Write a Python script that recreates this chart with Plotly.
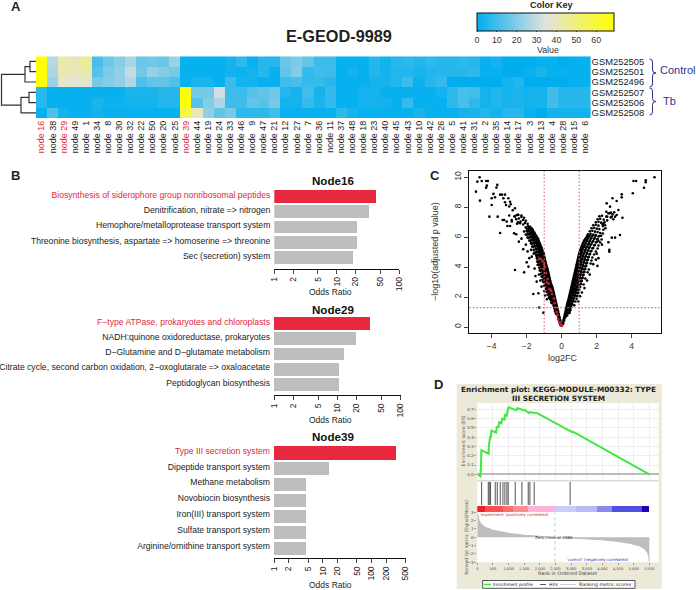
import math

import plotly.graph_objects as go

W, H = 696, 590
SANS = "Liberation Sans"
JAVA = "DejaVu Sans"

# --- A: heatmap ---
node_ids = [16, 38, 29, 49, 1, 34, 8, 30, 32, 22, 50, 20, 25, 39, 44, 19, 24, 33, 46, 9, 47, 21, 12, 27, 7,
            36, 11, 37, 48, 18, 23, 40, 45, 43, 10, 42, 26, 5, 41, 31, 2, 35, 14, 17, 3, 13, 4, 28, 15, 6]
red_nodes = [16, 29, 39]
samples = ["GSM252505", "GSM252501", "GSM252496", "GSM252507", "GSM252506", "GSM252508"]
row_505 = [68, 28, 43, 41, 45, 11, 17, 21, 26, 16, 17, 16, 24, 1, 1, 1, 1, 3, 7, 1, 6, 6, 16, 19, 15,
           9, 9, 1, 1, 1, 6, 3, 6, 7, 5, 7, 6, 6, 7, 6, 1, 3, 0, 0, 0, 1, 1, 0, 1, 1]
row_501 = [68, 26, 42, 40, 43, 13, 19, 22, 30, 17, 23, 20, 18, 1, 1, 1, 1, 3, 2, 3, 6, 1, 15, 20, 8,
           10, 9, 1, 3, 1, 5, 3, 5, 5, 4, 5, 6, 6, 6, 7, 1, 1, 0, 0, 1, 4, 1, 1, 1, 1]
row_496 = [68, 24, 38, 36, 37, 18, 20, 22, 27, 12, 15, 15, 12, 1, 4, 4, 1, 9, 3, 3, 1, 1, 10, 11, 8,
           8, 6, 1, 1, 1, 3, 3, 5, 9, 2, 6, 8, 0, 0, 0, 0, 0, 3, 5, 0, 0, 0, 0, 1, 1]
row_507 = [6, 1, 1, 1, 1, 1, 1, 1, 4, 4, 4, 6, 6, 68, 18, 18, 32, 9, 9, 13, 15, 17, 5, 3, 10,
           3, 8, 1, 1, 3, 3, 1, 1, 1, 1, 1, 3, 7, 11, 10, 3, 5, 3, 4, 3, 3, 10, 6, 6, 6]
row_506 = [6, 1, 1, 1, 1, 4, 2, 2, 3, 3, 3, 5, 5, 68, 13, 20, 26, 9, 10, 15, 13, 18, 3, 3, 8,
           4, 8, 1, 1, 3, 3, 3, 1, 8, 1, 1, 1, 7, 11, 7, 3, 5, 3, 4, 3, 3, 10, 6, 6, 6]
row_508 = [1, 12, 3, 1, 1, 3, 1, 1, 1, 1, 1, 1, 1, 58, 40, 22, 15, 18, 7, 7, 7, 10, 1, 1, 1,
           1, 1, 7, 3, 1, 1, 1, 1, 1, 4, 1, 1, 1, 3, 4, 5, 3, 6, 6, 1, 0, 3, 3, 3, 3]
dendro_merges = [(0, 1, 6), (6, 2, 11), (3, 4, 7), (8, 5, 15), (7, 9, 34.5)]
key_ticks = [0, 10, 20, 30, 40, 50, 60]

# --- B: enrichment bars ---
node16_terms = ["Biosynthesis of siderophore group nonribosomal peptides", "Denitrification, nitrate => nitrogen",
                "Hemophore/metalloprotease transport system",
                "Threonine biosynthesis, aspartate => homoserine => threonine", "Sec (secretion) system"]
node16_odds = [43.4, 32.7, 21.5, 21.5, 18.2]
node29_terms = ["F\u2212type ATPase, prokaryotes and chloroplasts", "NADH:quinone oxidoreductase, prokaryotes",
                "D\u2212Glutamine and D\u2212glutamate metabolism",
                "Citrate cycle, second carbon oxidation, 2\u2212oxoglutarate => oxaloacetate",
                "Peptidoglycan biosynthesis"]
node29_odds = [33, 19.8, 13, 10.8, 10.5]
node39_terms = ["Type III secretion system", "Dipeptide transport system", "Methane metabolism",
                "Novobiocin biosynthesis", "Iron(III) transport system", "Sulfate transport system",
                "Arginine/ornithine transport system"]
node39_odds = [316, 13.2, 4.5, 4.45, 4.45, 4.45, 4.45]
ticks_100 = [1, 2, 5, 10, 20, 50, 100]
ticks_500 = [1, 2, 5, 10, 20, 50, 100, 200, 500]

# --- C: volcano ---
volcano_left = [
    (-.03, .1), (-.06, .14), (-.07, .3), (-.12, .34), (-.1, .5), (-.16, .54), (-.14, .7), (-.21, .74), (-.18, .9),
    (-.26, .92), (-.33, .88), (-.22, 1.1), (-.3, 1.12), (-.38, 1.06), (-.26, 1.3), (-.34, 1.32), (-.43, 1.27),
    (-.3, 1.5), (-.38, 1.52), (-.46, 1.46), (-.34, 1.7), (-.42, 1.72), (-.5, 1.68), (-.6, 1.64), (-.38, 1.9),
    (-.46, 1.92), (-.55, 1.88), (-.65, 1.85), (-.42, 2.1), (-.5, 2.12), (-.6, 2.08), (-.7, 2.04), (-.46, 2.3),
    (-.55, 2.32), (-.65, 2.27), (-.75, 2.24), (-.5, 2.5), (-.6, 2.52), (-.7, 2.47), (-.8, 2.43), (-.55, 2.7),
    (-.65, 2.72), (-.75, 2.68), (-.85, 2.64), (-.62, 2.9), (-.72, 2.92), (-.82, 2.87), (-.92, 2.84), (-.66, 3.1),
    (-.76, 3.12), (-.86, 3.08), (-.96, 3.05), (-1.05, 3.0), (-.7, 3.3), (-.8, 3.32), (-.9, 3.27), (-1.0, 3.24),
    (-.74, 3.5), (-.84, 3.52), (-.94, 3.47), (-1.04, 3.44), (-1.15, 3.38), (-.78, 3.7), (-.88, 3.72), (-.98, 3.68),
    (-1.08, 3.64), (-.82, 3.9), (-.92, 3.92), (-1.02, 3.88), (-1.12, 3.85), (-1.25, 3.78), (-.88, 4.1), (-.98, 4.12),
    (-1.08, 4.07), (-1.18, 4.04), (-.92, 4.3), (-1.02, 4.32), (-1.12, 4.27), (-1.22, 4.24), (-1.35, 4.18),
    (-.96, 4.5), (-1.06, 4.52), (-1.16, 4.47), (-1.26, 4.44), (-1.4, 4.38), (-1.0, 4.7), (-1.1, 4.72), (-1.2, 4.67),
    (-1.3, 4.64), (-1.42, 4.6), (-1.02, 4.9), (-1.12, 4.92), (-1.22, 4.87), (-1.32, 4.84), (-1.45, 4.8),
    (-1.1, 5.1), (-1.2, 5.12), (-1.3, 5.07), (-1.42, 5.04), (-1.55, 4.98), (-1.15, 5.3), (-1.25, 5.32), (-1.36, 5.27),
    (-1.48, 5.24), (-1.22, 5.5), (-1.32, 5.52), (-1.42, 5.47), (-1.55, 5.44), (-1.68, 5.38), (-1.3, 5.7), (-1.4, 5.72),
    (-1.5, 5.67), (-1.62, 5.64), (-1.75, 5.6), (-1.35, 5.9), (-1.5, 5.92), (-1.6, 5.87), (-1.72, 5.84), (-1.85, 5.78),
    (-1.45, 6.1), (-1.58, 6.12), (-1.7, 6.07), (-1.82, 6.04), (-1.95, 5.98), (-1.55, 6.3), (-1.68, 6.32), (-1.8, 6.27),
    (-1.92, 6.24), (-2.05, 6.18), (-1.65, 6.5), (-1.78, 6.52), (-1.9, 6.47), (-2.0, 6.44), (-2.15, 6.38), (-1.8, 6.7),
    (-1.92, 6.75), (-2.05, 6.66), (-1.95, 6.9), (-2.1, 6.95), (-2.2, 6.85), (-2.05, 7.1), (-2.2, 7.15), (-2.35, 7.05),
    (-2.5, 7.0), (-2.15, 7.3), (-2.3, 7.35), (-2.45, 7.25), (-2.6, 7.2), (-2.3, 7.45), (-2.5, 7.5), (-2.7, 7.4),
    (-4.82, 9.71), (-4.69, 10), (-4.57, 9.75), (-4.67, 8.44), (-4.9, 9.04), (-4.32, 9.75), (-4.22, 9.75), (-4.28, 9.44),
    (-4.32, 9.3), (-3.68, 9.49), (-3.73, 9.31), (-3.9, 8.89), (-3.81, 8.66), (-4, 8.6), (-4, 8.15), (-4.13, 7.37),
    (-3.66, 7.37), (-3.52, 8.84), (-3.41, 8.84), (-3.24, 8.84), (-3.52, 6.28), (-3.33, 8.6), (-3.24, 8.33), (-3.18, 8.15),
    (-3.05, 8.6), (-2.95, 8.37), (-2.91, 8.2), (-2.67, 7.93), (-3.37, 7.15), (-3.29, 7.15), (-3.14, 7.04), (-3.1, 6.75),
    (-2.95, 6.75), (-2.86, 7.15), (-2.67, 7.37), (-2.57, 7.48), (-2.48, 7.48), (-2.38, 6.93), (-2.72, 6.26), (-2.67, 3.81),
    (-2.15, 3.65), (-1.9, 4.03), (-2, 4.32), (-1.71, 4.7), (-1.37, 4.14), (-1.62, 2.2), (-1.33, 2.25), (-1.43, 3.03),
    (-1.28, 1.3), (-1.05, .96), (-3.0, 8.05), (-2.8, 7.8), (-2.6, 6.2), (-2.45, 5.7), (-2.3, 5.9), (-2.2, 5.2),
    (-2.05, 5.5), (-1.95, 5.05), (-1.85, 4.6), (-1.75, 5.15), (-1.6, 4.9), (-1.55, 3.9), (-1.5, 3.4), (-1.3, 3.5),
    (-1.22, 3.1), (-1.15, 2.7), (-1.0, 2.4), (-.95, 2.1), (-.85, 1.85), (-2.85, 7.05), (-2.55, 6.9), (-3.0, 7.45),
]
volcano_left_dense = [
    (-.1, .2), (-.13, .4), (-.08, .42), (-.18, .6), (-.12, .62), (-.22, .8), (-.16, .82), (-.28, 1.0), (-.2, 1.02), (-.36, 1.0),
    (-.24, 1.2), (-.32, 1.22), (-.4, 1.2), (-.28, 1.4), (-.36, 1.42), (-.44, 1.4), (-.32, 1.6), (-.4, 1.62), (-.48, 1.6), (-.55, 1.58),
    (-.36, 1.8), (-.44, 1.82), (-.52, 1.8), (-.6, 1.78), (-.4, 2.0), (-.48, 2.02), (-.56, 2.0), (-.64, 1.98), (-.74, 1.95),
    (-.44, 2.2), (-.52, 2.22), (-.6, 2.2), (-.7, 2.18), (-.8, 2.15), (-.48, 2.4), (-.56, 2.42), (-.66, 2.4), (-.76, 2.38), (-.86, 2.35),
    (-.52, 2.6), (-.6, 2.62), (-.7, 2.6), (-.8, 2.58), (-.9, 2.55), (-.58, 2.8), (-.7, 2.82), (-.8, 2.8), (-.9, 2.78), (-1.0, 2.75),
    (-.64, 3.0), (-.74, 3.02), (-.84, 3.0), (-.94, 2.98), (-.68, 3.2), (-.78, 3.22), (-.88, 3.2), (-.98, 3.18), (-1.1, 3.15),
    (-.72, 3.4), (-.82, 3.42), (-.92, 3.4), (-1.02, 3.38), (-1.12, 3.35), (-.76, 3.6), (-.86, 3.62), (-.96, 3.6), (-1.06, 3.58), (-1.18, 3.55),
    (-.8, 3.8), (-.9, 3.82), (-1.0, 3.8), (-1.1, 3.78), (-1.2, 3.75), (-.85, 4.0), (-.95, 4.02), (-1.05, 4.0), (-1.15, 3.98), (-1.28, 3.95),
    (-.9, 4.2), (-1.0, 4.22), (-1.1, 4.2), (-1.2, 4.18), (-1.3, 4.15), (-.94, 4.4), (-1.04, 4.42), (-1.14, 4.4), (-1.24, 4.38), (-1.36, 4.35),
    (-.98, 4.6), (-1.08, 4.62), (-1.18, 4.6), (-1.28, 4.58), (-1.38, 4.55), (-1.02, 4.8), (-1.12, 4.82), (-1.22, 4.8), (-1.32, 4.78), (-1.44, 4.75),
    (-1.06, 5.0), (-1.16, 5.02), (-1.26, 5.0), (-1.38, 4.98), (-1.5, 4.95), (-1.14, 5.2), (-1.24, 5.22), (-1.34, 5.2), (-1.46, 5.18), (-1.6, 5.15),
    (-1.2, 5.4), (-1.3, 5.42), (-1.4, 5.4), (-1.52, 5.38), (-1.65, 5.35), (-1.26, 5.6), (-1.36, 5.62), (-1.46, 5.6), (-1.58, 5.58), (-1.72, 5.55),
    (-1.34, 5.8), (-1.44, 5.82), (-1.56, 5.8), (-1.68, 5.78), (-1.8, 5.75), (-1.42, 6.0), (-1.54, 6.02), (-1.66, 6.0), (-1.78, 5.98), (-1.9, 5.95),
    (-1.52, 6.2), (-1.64, 6.22), (-1.76, 6.2), (-1.88, 6.18), (-2.0, 6.15), (-1.62, 6.4), (-1.74, 6.42), (-1.86, 6.4), (-1.98, 6.38),
    (-1.72, 6.6), (-1.86, 6.62), (-2.0, 6.6),
]
volcano_right = [
    (.05, .2), (.09, .24), (.09, .4), (.14, .44), (.13, .6), (.2, .64), (.17, .8), (.25, .83), (.31, .77), (.21, 1.0),
    (.29, 1.03), (.37, .97), (.45, .94), (.25, 1.2), (.33, 1.23), (.41, 1.17), (.5, 1.14), (.29, 1.4), (.37, 1.43),
    (.45, 1.37), (.55, 1.34), (.33, 1.6), (.41, 1.63), (.5, 1.57), (.6, 1.54), (.38, 1.8), (.46, 1.83), (.55, 1.77),
    (.66, 1.74), (.78, 1.7), (.42, 2.0), (.5, 2.03), (.6, 1.97), (.7, 1.94), (.85, 1.88), (.46, 2.2), (.55, 2.23),
    (.65, 2.17), (.75, 2.14), (.9, 2.08), (.5, 2.4), (.6, 2.43), (.7, 2.37), (.8, 2.34), (.95, 2.28), (.54, 2.6),
    (.64, 2.63), (.74, 2.57), (.85, 2.54), (1.0, 2.48), (.58, 2.8), (.68, 2.83), (.78, 2.77), (.9, 2.74), (1.05, 2.68),
    (.62, 3.0), (.72, 3.03), (.82, 2.97), (.94, 2.94), (1.1, 2.88), (1.25, 2.84), (.66, 3.2), (.76, 3.23), (.88, 3.17),
    (1.0, 3.14), (1.15, 3.08), (.7, 3.4), (.8, 3.43), (.92, 3.37), (1.04, 3.34), (1.2, 3.28), (1.35, 3.24), (.74, 3.6),
    (.84, 3.63), (.96, 3.57), (1.08, 3.54), (1.25, 3.48), (.78, 3.8), (.88, 3.83), (1.0, 3.77), (1.12, 3.74), (1.3, 3.68),
    (1.48, 3.66), (.82, 4.0), (.92, 4.03), (1.04, 3.97), (1.18, 3.94), (1.35, 3.88), (1.55, 3.84), (.86, 4.2), (.96, 4.23),
    (1.08, 4.17), (1.22, 4.14), (1.4, 4.08), (.9, 4.4), (1.0, 4.43), (1.12, 4.37), (1.28, 4.34), (1.45, 4.28), (1.65, 4.24),
    (.94, 4.6), (1.04, 4.63), (1.18, 4.57), (1.32, 4.54), (1.5, 4.48), (1.7, 4.44), (.98, 4.8), (1.1, 4.83), (1.22, 4.77),
    (1.38, 4.74), (1.55, 4.68), (1.75, 4.64), (1.02, 5.0), (1.15, 5.03), (1.3, 4.97), (1.45, 4.94), (1.62, 4.88), (1.85, 4.84),
    (1.08, 5.2), (1.2, 5.23), (1.36, 5.17), (1.52, 5.14), (1.7, 5.08), (1.95, 5.04), (1.15, 5.4), (1.3, 5.43), (1.45, 5.37),
    (1.6, 5.34), (1.8, 5.28), (2.05, 5.24), (1.22, 5.6), (1.38, 5.63), (1.55, 5.57), (1.7, 5.54), (1.9, 5.48), (2.1, 5.44),
    (1.3, 5.8), (1.45, 5.83), (1.62, 5.77), (1.8, 5.74), (2.0, 5.68), (2.2, 5.64), (1.42, 6.0), (1.55, 6.03), (1.7, 5.97),
    (1.88, 5.94), (2.05, 5.88), (2.28, 5.84), (1.5, 6.2), (1.65, 6.23), (1.8, 6.17), (1.95, 6.14), (2.15, 6.08), (1.6, 6.4),
    (1.75, 6.43), (1.9, 6.37), (2.05, 6.34), (2.2, 6.28), (1.7, 6.6), (1.85, 6.63), (2.0, 6.57), (2.15, 6.54), (1.8, 6.8),
    (1.95, 6.83), (2.1, 6.77), (2.35, 6.74), (1.95, 7.0), (2.1, 7.03), (2.25, 6.97), (2.4, 6.94), (2.05, 7.2), (2.2, 7.23),
    (2.4, 7.17), (2.6, 7.12), (2.15, 7.4), (2.3, 7.43), (2.55, 7.37), (2.8, 7.32), (2.75, 7.6), (3.0, 7.66),
    (5.3, 10), (4.8, 9.8), (4.8, 9.67), (4.7, 9.3), (4.1, 9.75), (4.25, 9.75), (4.06, 8.93), (3.43, 8.86), (3.43, 8.66),
    (2.9, 8.6), (3.14, 8.42), (2.57, 8.26), (2.76, 8.04), (3.24, 7.82), (3.14, 7.48), (2.67, 7.6), (2.81, 7.64), (2.91, 7.53),
    (2.6, 7.37), (2.86, 7.37), (3.05, 7.37), (3.47, 7.3), (3.33, 6.15), (2.86, 5.97), (3.05, 5.97), (2.67, 5.66), (2.72, 5.15),
    (2.72, 5.03), (2.04, 4.08), (2.1, 4.6), (2, 4.9), (2.48, 6.8), (2.34, 6.86), (2.45, 7.0), (2.38, 6.5), (2.3, 5.5),
    (2.25, 6.1), (2.1, 5.75), (1.95, 4.5), (1.8, 4.2), (1.6, 3.5), (1.45, 3.1), (1.3, 2.6), (1.15, 2.3), (1.05, 2.05),
    (.95, 1.7), (.72, 1.45), (2.35, 6.25), (2.5, 6.6), (2.55, 7.7), (2.95, 7.2),
]
volcano_right_dense = [
    (.07, .3), (.12, .52), (.16, .7), (.23, .72), (.19, .9), (.27, .92), (.35, .9), (.23, 1.1), (.31, 1.12), (.39, 1.1), (.47, 1.08),
    (.27, 1.3), (.35, 1.32), (.43, 1.3), (.52, 1.28), (.31, 1.5), (.39, 1.52), (.48, 1.5), (.57, 1.48), (.35, 1.7), (.43, 1.72), (.52, 1.7), (.62, 1.68),
    (.4, 1.9), (.48, 1.92), (.57, 1.9), (.68, 1.88), (.44, 2.1), (.53, 2.12), (.62, 2.1), (.73, 2.08), (.83, 2.05),
    (.48, 2.3), (.57, 2.32), (.67, 2.3), (.78, 2.28), (.88, 2.25), (.52, 2.5), (.62, 2.52), (.72, 2.5), (.83, 2.48), (.93, 2.45),
    (.56, 2.7), (.66, 2.72), (.76, 2.7), (.87, 2.68), (.98, 2.65), (.6, 2.9), (.7, 2.92), (.8, 2.9), (.92, 2.88), (1.03, 2.85),
    (.64, 3.1), (.74, 3.12), (.85, 3.1), (.97, 3.08), (1.1, 3.05), (.68, 3.3), (.78, 3.32), (.9, 3.3), (1.02, 3.28), (1.14, 3.25),
    (.72, 3.5), (.82, 3.52), (.94, 3.5), (1.06, 3.48), (1.2, 3.45), (.76, 3.7), (.86, 3.72), (.98, 3.7), (1.1, 3.68), (1.24, 3.65),
    (.8, 3.9), (.9, 3.92), (1.02, 3.9), (1.15, 3.88), (1.28, 3.85), (.84, 4.1), (.94, 4.12), (1.06, 4.1), (1.2, 4.08), (1.34, 4.05),
    (.88, 4.3), (.98, 4.32), (1.1, 4.3), (1.25, 4.28), (1.4, 4.25), (.92, 4.5), (1.02, 4.52), (1.15, 4.5), (1.3, 4.48), (1.44, 4.45),
    (.96, 4.7), (1.07, 4.72), (1.2, 4.7), (1.35, 4.68), (1.5, 4.65), (1.0, 4.9), (1.12, 4.92), (1.26, 4.9), (1.42, 4.88), (1.58, 4.85),
    (1.05, 5.1), (1.18, 5.12), (1.33, 5.1), (1.48, 5.08), (1.65, 5.05), (1.12, 5.3), (1.25, 5.32), (1.4, 5.3), (1.56, 5.28), (1.75, 5.25),
    (1.18, 5.5), (1.34, 5.52), (1.5, 5.5), (1.65, 5.48), (1.85, 5.45), (1.26, 5.7), (1.42, 5.72), (1.58, 5.7), (1.75, 5.68), (1.95, 5.65),
    (1.36, 5.9), (1.5, 5.92), (1.66, 5.9), (1.84, 5.88), (2.02, 5.85), (1.46, 6.1), (1.6, 6.12), (1.75, 6.1), (1.92, 6.08), (2.1, 6.05),
]
volcano_red = [(-1.3, 4.55), (-1.2, 4.55), (-1.1, 4.4), (-1.0, 4.2), (-1.05, 3.9), (-.95, 4), (-.9, 3.6), (-.8, 3.2),
               (-.85, 3.0), (-.75, 2.9), (-.7, 2.55), (-.65, 2.5), (-.6, 2.4), (-.55, 2.2), (-.45, 1.9), (-.4, 1.6),
               (-.35, 1.3), (-.3, 1.0), (-.25, .8), (-.2, .5), (-.12, .3), (-.05, .15), (.02, .08)]
volcano_xticks = [-4, -2, 0, 2, 4]
volcano_yticks = [0, 2, 4, 6, 8, 10]
fc_cut = [-1, 1]
p_cut = 1.3

# --- D: GSEA plot ---
es_rank = [0, 100, 120, 130, 360, 370, 410, 430, 450, 600, 620, 680, 700, 770, 800, 870, 890, 940, 960, 1000,
           1250, 1280, 1500, 1530, 1650, 1700, 1770, 1900, 3000, 3100, 5500]
es_score = [0, -.02, .12, .26, .22, .31, .40, .40, .47, .45, .51, .51, .56, .55, .60, .59, .64, .63, .67, .72,
            .69, .71, .69, .69, .66, .67, .665, .66, .46, .45, 0]
hit_ranks = [138, 351, 383, 425, 574, 638, 734, 819, 883, 947, 989, 1213, 1426, 1628, 1681, 1819, 2968]
band_edges = [0, 245, 830, 1150, 1630, 2480, 3170, 3830, 4320, 5280, 5500]
band_colors = ["#E8202A", "#F85050", "#F87070", "#FB8E8E", "#FCB4DC", "#CCCCFA", "#BDB8F8", "#8888F0", "#5050E0", "#2200BB"]
metric_rank = [0, 20, 60, 120, 250, 500, 800, 1100, 1500, 2000, 2480, 3000, 3500, 4000, 4500, 4900, 5200, 5350, 5450, 5490, 5500]
metric_value = [3, 2.5, 2, 1.6, 1.2, .85, .6, .42, .25, .1, 0, -.08, -.18, -.3, -.5, -.75, -1.05, -1.4, -1.9, -2.4, -2.9]
rank_ticks = [0, 500, 1000, 1500, 2000, 2500, 3000, 3500, 4000, 4500, 5000, 5500]
zero_cross = 2480


def dx(left, right):
    return [left / W, right / W]


def dy(top, bottom):
    return [1 - bottom / H, 1 - top / H]


def note(px, py, text, size, color="#231F20", bold=False, family=SANS, anchor="center", angle=0):
    if bold:
        text = "<b>" + text + "</b>"
    return dict(xref="paper", yref="paper", x=px / W, y=1 - py / H, text=text, showarrow=False, xanchor=anchor,
                yanchor="middle", textangle=angle, borderpad=0, font=dict(size=size, color=color, family=family))


def rect(left, top, right, bottom, fill, line=None):
    return dict(type="rect", xref="paper", yref="paper", x0=left / W, x1=right / W, y0=1 - top / H, y1=1 - bottom / H,
                fillcolor=fill, line=dict(width=1 if line else 0, color=line or fill), layer="below")


def seg(left, y, right, color, width=1):
    return dict(type="line", xref="paper", yref="paper", x0=left / W, x1=right / W, y0=1 - y / H, y1=1 - y / H,
                line=dict(color=color, width=width))


def brace(x0, x1, x2, top, bottom, color="#2E3192"):
    mid = (top + bottom) / 2
    def p(a, b):
        return f"{a / W:.5f} {1 - b / H:.5f}"
    path = (f"M {p(x0, top)} Q {p(x1, top)} {p(x1, top + 3)} L {p(x1, mid - 3)} Q {p(x1, mid)} {p(x2, mid)} "
            f"Q {p(x1, mid)} {p(x1, mid + 3)} L {p(x1, bottom - 3)} Q {p(x1, bottom)} {p(x0, bottom)}")
    return dict(type="path", xref="paper", yref="paper", path=path, line=dict(color=color, width=1))


fig = go.Figure()

# heatmap with color key
node_labels = ["node " + str(n) for n in node_ids]
node_text = []
for n in node_ids:
    pad = "\u00a0" * (3 if n < 10 else 1)
    t = "node" + pad + str(n)
    node_text.append(f'<span style="color:#E0283C">{t}</span>' if n in red_nodes else t)
fig.add_trace(go.Heatmap(
    z=[row_505, row_501, row_496, row_507, row_506, row_508], x=node_labels, y=samples, zmin=0, zmax=69,
    colorscale=[[0, "#00AEEF"], [0.5, "#E2E2E0"], [1, "#FFFF00"]],
    colorbar=dict(orientation="h", lenmode="pixels", len=137, thicknessmode="pixels", thickness=18,
                  x=545.5 / W, xanchor="center", y=1 - 12.7 / H, yanchor="top", xpad=0, ypad=0,
                  tickvals=key_ticks, ticks="outside", ticklen=1, tickwidth=1, outlinecolor="#111", outlinewidth=1,
                  tickfont=dict(size=8.8, family=SANS, color="#333")),
    xaxis="x", yaxis="y"))

# dendrogram
pos = {i: (float(i), 0.0) for i in range(6)}
dendro_x, dendro_y = [], []
for k, (a, b, h) in enumerate(dendro_merges):
    ya, ha = pos[a]
    yb, hb = pos[b]
    dendro_x += [ha, h, h, hb, None]
    dendro_y += [ya, ya, yb, yb, None]
    pos[6 + k] = ((ya + yb) / 2, h)
fig.add_trace(go.Scatter(x=dendro_x, y=dendro_y, mode="lines", line=dict(color="#333", width=1.2),
                         xaxis="x2", yaxis="y2", showlegend=False))


# bar panels
def odds_panel(terms, odds, ax):
    colors = ["#E8283C"] + ["#BEBEBE"] * (len(terms) - 1)
    fig.add_trace(go.Bar(x=odds, y=terms, orientation="h", width=0.83, marker=dict(color=colors, line=dict(width=0)),
                         xaxis="x" + ax, yaxis="y" + ax, showlegend=False))


odds_panel(node16_terms, node16_odds, "3")
odds_panel(node29_terms, node29_odds, "4")
odds_panel(node39_terms, node39_odds, "5")


def odds_axes(terms, ticks, left, right, top, bottom, pitch, ax):
    shown = [f'<span style="color:#E0283C">{terms[0]}</span>'] + terms[1:]
    return {
        "xaxis" + ax: dict(domain=dx(left, right), anchor="y" + ax, type="log", range=[0, math.log10(ticks[-1])],
                           tickmode="array", tickvals=ticks, ticktext=[str(t) for t in ticks], tickangle=-90,
                           ticks="outside", ticklen=4, tickwidth=1, showline=True, linecolor="#111", linewidth=1,
                           showgrid=False, zeroline=False, tickfont=dict(size=8.5, family=SANS, color="#222")),
        "yaxis" + ax: dict(domain=dy(top, bottom), anchor="x" + ax, type="category", categoryorder="array", categoryarray=terms,
                           range=[-0.5 + (bottom - top) / pitch, -0.5], tickmode="array", tickvals=terms, ticktext=shown,
                           ticks="", showline=False, showgrid=False, zeroline=False, ticklabelshift=2, ticklabelstandoff=3,
                           tickfont=dict(size=8.6, family=SANS, color="#222")),
    }


# volcano
black_pts = volcano_left + volcano_left_dense + volcano_right + volcano_right_dense
fig.add_trace(go.Scatter(x=[p[0] for p in black_pts], y=[p[1] for p in black_pts],
                         mode="markers", marker=dict(color="#000", size=2.6, line=dict(width=0)),
                         xaxis="x6", yaxis="y6", showlegend=False))
fig.add_trace(go.Scatter(x=[p[0] for p in volcano_red], y=[p[1] for p in volcano_red], mode="markers",
                         marker=dict(color="#C8202C", size=2.8, line=dict(width=0)),
                         xaxis="x6", yaxis="y6", showlegend=False))

# GSEA
fig.add_trace(go.Scatter(x=es_rank, y=es_score, mode="lines", line=dict(color="#3FE83F", width=2),
                         xaxis="x7", yaxis="y7", showlegend=False))
hit_x, hit_y = [], []
for r in hit_ranks:
    hit_x += [r, r, None]
    hit_y += [0, 1, None]
fig.add_trace(go.Scatter(x=hit_x, y=hit_y, mode="lines", line=dict(color="#555", width=1),
                         xaxis="x8", yaxis="y8", showlegend=False))
fig.add_trace(go.Bar(y=[0] * len(band_colors), x=[b - a for a, b in zip(band_edges, band_edges[1:])], base=band_edges[:-1],
                     orientation="h", width=1, marker=dict(color=band_colors, line=dict(width=0)),
                     xaxis="x9", yaxis="y9", showlegend=False))
fig.add_trace(go.Scatter(x=metric_rank, y=metric_value, mode="lines", fill="tozeroy", fillcolor="#BDBDBD",
                         line=dict(color="#BDBDBD", width=1), xaxis="x10", yaxis="y10", showlegend=False))

java_tick = dict(size=4, family=JAVA, color="#444")
rank_range = [0, 5800]
layout_axes = dict(
    # heatmap
    xaxis=dict(domain=dx(36, 590.6), anchor="y", tickmode="array", tickvals=node_labels, ticktext=node_text, tickangle=-90,
               ticks="", showgrid=False, tickfont=dict(size=9, family=SANS, color="#222")),
    yaxis=dict(domain=dy(56.3, 118), anchor="x", side="right", autorange="reversed", ticks="", showgrid=False,
               tickmode="array", tickvals=samples, ticktext=samples, tickfont=dict(size=9.4, family=SANS, color="#222")),
    xaxis2=dict(domain=dx(0, 36), anchor="y2", range=[36, 0], visible=False),
    yaxis2=dict(domain=dy(56.3, 118), anchor="x2", range=[5.5, -0.5], visible=False),
    # volcano
    xaxis6=dict(domain=dx(469.3, 661.3), anchor="y6", range=[-5.28, 5.69], tickvals=volcano_xticks, ticks="outside", ticklen=4,
                showgrid=False, zeroline=False, showline=True, mirror=True, linecolor="#111", linewidth=1.2,
                tickfont=dict(size=8.5, family=SANS, color="#333"), tickformat="d"),
    yaxis6=dict(domain=dy(171, 333.3), anchor="x6", range=[-0.42, 10.42], tickvals=volcano_yticks, ticks="outside", ticklen=4,
                tickangle=-90, showgrid=False, zeroline=False, showline=True, mirror=True, linecolor="#111", linewidth=1.2,
                tickfont=dict(size=8.5, family=SANS, color="#333")),
    # GSEA enrichment score
    xaxis7=dict(domain=dx(477.3, 658.7), anchor="y7", range=rank_range, tickvals=rank_ticks, ticks="", showticklabels=False,
                gridcolor="#EEEEEE", zeroline=False),
    yaxis7=dict(domain=dy(403, 480), anchor="x7", range=[-0.061, 0.767], dtick=0.1, tickformat=".1f", ticks="outside", ticklen=2,
                tickcolor="#999", gridcolor="#EEEEEE", zeroline=True, zerolinecolor="#BBBBBB", tickfont=java_tick),
    xaxis8=dict(domain=dx(477.3, 658.7), anchor="y8", range=rank_range, visible=False),
    yaxis8=dict(domain=dy(481.7, 505), anchor="x8", range=[0, 1], visible=False),
    xaxis9=dict(domain=dx(477.3, 658.7), anchor="y9", range=rank_range, visible=False),
    yaxis9=dict(domain=dy(506, 512.3), anchor="x9", range=[-0.5, 0.5], visible=False),
    xaxis10=dict(domain=dx(477.3, 658.7), anchor="y10", range=rank_range, tickvals=rank_ticks, tickformat=",", tickangle=0, ticks="outside",
                 ticklen=2, tickcolor="#999", showgrid=False, zeroline=False, tickfont=dict(size=3.6, family=JAVA, color="#444")),
    yaxis10=dict(domain=dy(512.3, 562.3), anchor="x10", range=[-3, 3], dtick=1, ticks="outside", ticklen=2, tickcolor="#999",
                 showgrid=False, zeroline=False, tickfont=java_tick),
)
layout_axes.update(odds_axes(node16_terms, ticks_100, 274.3, 399.3, 189.4, 268.7, 15.2, "3"))
layout_axes.update(odds_axes(node29_terms, ticks_100, 274, 400.5, 316.2, 395, 15.2, "4"))
layout_axes.update(odds_axes(node39_terms, ticks_500, 274, 405.7, 444.7, 558, 15.9, "5"))

shapes = [
    rect(456.7, 384, 661.7, 589, "#ECE9D8"),
    rect(477.3, 403, 658.7, 562.3, "#FFFFFF"),
    rect(482.7, 580.5, 635, 588.3, "#FFFFFF", "#555555"),
    seg(477.3, 480.8, 658.7, "#C8C8C8", 1),
    seg(484, 584.5, 491, "#3FE83F", 1.5),
    seg(540, 584.5, 546, "#555555", 1),
    seg(560, 584.5, 576, "#D0D0D0", 1),
    brace(649.5, 652.5, 656, 59, 87),
    brace(649.5, 652.5, 656, 88, 115),
]
# cut-off lines of the volcano, on its data axes
cut_line = dict(color="#E0707C", width=1.2, dash="1.5px,2px")
for fc in fc_cut:
    shapes.append(dict(type="line", xref="x6", yref="paper", x0=fc, x1=fc, y0=dy(171, 333.3)[0], y1=dy(171, 333.3)[1], line=cut_line))
shapes.append(dict(type="line", xref="paper", yref="y6", x0=469.3 / W, x1=661.3 / W, y0=p_cut, y1=p_cut, line=cut_line))
shapes.append(dict(type="line", xref="x10", yref="y10", x0=zero_cross, x1=zero_cross, y0=-3, y1=3,
                   line=dict(color="#BBBBBB", width=0.8, dash="dot")))

annotations = [
    note(10, 6.5, "A", 13, bold=True, anchor="left"),
    note(10, 176, "B", 13, bold=True, anchor="left"),
    note(429, 176, "C", 13, bold=True, anchor="left"),
    note(432.5, 384, "D", 13, bold=True, anchor="left"),
    note(339, 36, "E-GEOD-9989", 16.3, bold=True),
    note(551, 4.5, "Color Key", 9, bold=True),
    note(548, 50, "Value", 8.8, color="#333"),
    note(659, 70.5, "Control", 11, color="#2E3192", anchor="left"),
    note(662, 100.5, "Tb", 11, color="#2E3192", anchor="left"),
    note(333, 180, "Node16", 11.6, bold=True, color="#111"),
    note(332.7, 309, "Node29", 11.6, bold=True, color="#111"),
    note(333, 436, "Node39", 11.6, bold=True, color="#111"),
    note(330.7, 292, "Odds Ratio", 8.5),
    note(330.7, 420, "Odds Ratio", 8.5),
    note(330.7, 585, "Odds Ratio", 8.5),
    note(435, 252, "\u2212log10(adjusted p value)", 9, color="#333", angle=-90),
    note(563, 357.7, "log2FC", 9, color="#333"),
    note(558.5, 389, "Enrichment plot: KEGG-MODULE-M00332: TYPE", 7.35, bold=True, family=JAVA, color="#222"),
    note(558.5, 398, "III SECRETION SYSTEM", 7.35, bold=True, family=JAVA, color="#222"),
    note(463, 441.5, "Enrichment score (ES)", 4.6, family=JAVA, color="#555", angle=-90),
    note(465.7, 537, "Ranked list metric (Signal2Noise)", 4.5, family=JAVA, color="#555", angle=-90),
    note(567.6, 573.6, "Rank in Ordered Dataset", 4.8, family=JAVA, color="#444"),
    note(479, 514.6, "'experiment' (positively correlated)", 3.9, family=JAVA, color="#E0202A", anchor="left"),
    note(554, 537.3, "Zero cross at 2480", 4, family=JAVA, color="#222"),
    note(630, 559.3, "'control' (negatively correlated)", 3.9, family=JAVA, color="#2A2AD0", anchor="right"),
    note(491.7, 584.5, "Enrichment profile", 4.3, family=JAVA, color="#222", anchor="left"),
    note(547.5, 584.5, "Hits", 4.5, family=JAVA, color="#222", anchor="left"),
    note(577.5, 584.5, "Ranking metric scores", 4.7, family=JAVA, color="#222", anchor="left"),
]

fig.update_layout(width=W, height=H, margin=dict(l=0, r=0, t=0, b=0, pad=0, autoexpand=False), paper_bgcolor="white", plot_bgcolor="white",
                  showlegend=False, shapes=shapes, annotations=annotations, bargap=0, font=dict(family=SANS), **layout_axes)

fig.write_html("out.html", config={"displayModeBar": False},
               post_script="document.body.style.margin='0';document.body.style.overflow='hidden';")
